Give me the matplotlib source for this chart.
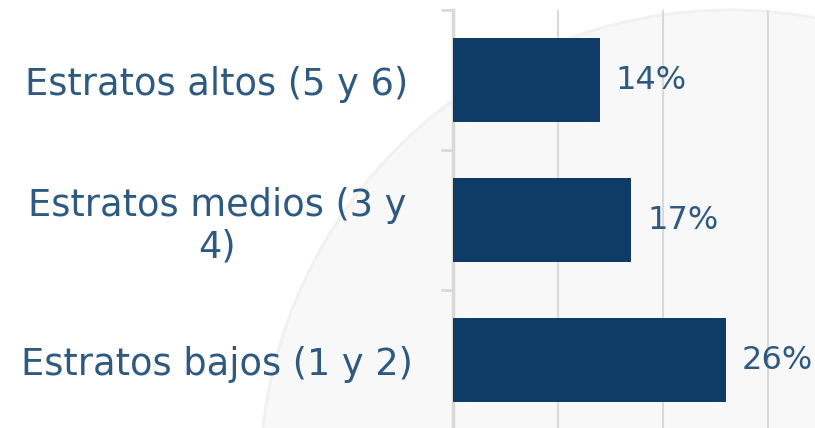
import matplotlib.pyplot as plt
import matplotlib.patches as mpatches
import numpy as np

categorias = ['Estratos altos (5 y 6)', 'Estratos medios (3 y\n4)', 'Estratos bajos (1 y 2)']
valores = [14, 17, 26]
etiquetas = ['14%', '17%', '26%']

color_barra = '#0e3c66'
color_texto = '#2e5a82'
color_grid = '#d9d9d9'

fig = plt.figure(figsize=(8.15, 4.28), dpi=100)
fig.patch.set_facecolor('white')

# marca de agua suave al fondo (en pixeles)
bg = fig.add_axes([0, 0, 1, 1], zorder=-1)
bg.set_xlim(0, 815)
bg.set_ylim(428, 0)
bg.axis('off')
bg.add_patch(mpatches.Circle((730, 480), 470, facecolor='#f8f8f8',
                             edgecolor='#f1f1f1', lw=2))

ax = fig.add_axes([453 / 815, -2 / 428, 1 - 453 / 815, 420 / 428])
ax.set_facecolor('none')

y = np.arange(len(categorias))
ax.barh(y, valores, height=0.6, color=color_barra, zorder=3)
ax.set_ylim(len(categorias) - 0.5, -0.5)
ax.set_xlim(0, 34.5)

for yi, v, t in zip(y, valores, etiquetas):
    ax.text(v + 1.5, yi, t, va='center', ha='left', fontsize=23, color=color_texto)

ax.set_yticks(y)
ax.set_yticklabels(categorias, fontsize=26.5, color=color_texto, ha='center',
                   linespacing=1.15)
ax.tick_params(axis='y', which='major', length=0, pad=170)
ax.set_yticks(np.arange(-0.5, len(categorias), 1), minor=True)
ax.tick_params(axis='y', which='minor', length=9, width=2, color=color_grid)

ax.set_xticks([10, 20, 30])
ax.tick_params(axis='x', length=0, labelbottom=False)
ax.grid(axis='x', color=color_grid, lw=1.5, zorder=0)

for s in ['top', 'right', 'bottom']:
    ax.spines[s].set_visible(False)
ax.spines['left'].set_color(color_grid)
ax.spines['left'].set_linewidth(2.5)

fig.savefig('out.png', dpi=100)
